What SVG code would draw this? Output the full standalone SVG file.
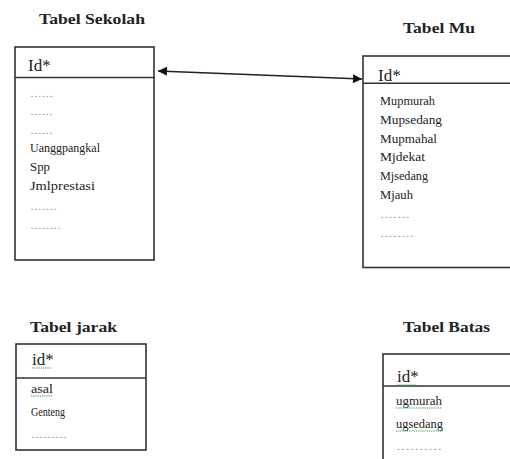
<svg xmlns="http://www.w3.org/2000/svg" width="510" height="459" viewBox="0 0 510 459">
<style>
.box{fill:#fff;stroke:#333;stroke-width:1.6}
.div{stroke:#333;stroke-width:1.6}
text{font-family:'Liberation Serif','Times New Roman',serif}
.title{font-weight:bold;font-size:15px;fill:#222}
.key{font-size:17px;fill:#222}
.row{font-size:12px;fill:#222}
.dots{font-size:10px;fill:#8fa3c4}
.spell{fill:none;stroke:#3a9a3a;stroke-width:1.2;stroke-dasharray:1.2 1}
.conn{stroke:#222;stroke-width:1.6;fill:none}
</style>
<defs>
<marker id="ah" viewBox="0 0 10 10" refX="10" refY="5" markerWidth="11" markerHeight="9" orient="auto-start-reverse" markerUnits="userSpaceOnUse">
<path d="M0,0 L10,5 L0,10 z" fill="#111"/>
</marker>
</defs>
<rect width="510" height="459" fill="#fff"/>

<g id="tabel-sekolah">
<text class="title" font-family="'Liberation Serif', serif" x="39" y="24" textLength="106" lengthAdjust="spacingAndGlyphs">Tabel Sekolah</text>
<rect class="box" x="15" y="47" width="139" height="213"/>
<line class="div" x1="15" y1="77.5" x2="155" y2="77.5"/>
<text class="key" font-family="'Liberation Serif', serif" x="28" y="71">Id*</text>
<text class="dots" font-family="'Liberation Serif', serif" x="30" y="97" textLength="23" lengthAdjust="spacingAndGlyphs">......</text>
<text class="dots" font-family="'Liberation Serif', serif" x="30" y="115" textLength="23" lengthAdjust="spacingAndGlyphs">......</text>
<text class="dots" font-family="'Liberation Serif', serif" x="30" y="134" textLength="23" lengthAdjust="spacingAndGlyphs">......</text>
<text class="row" font-family="'Liberation Serif', serif" x="30" y="152" textLength="70" lengthAdjust="spacingAndGlyphs">Uanggpangkal</text>
<text class="row" font-family="'Liberation Serif', serif" x="30" y="171" textLength="20" lengthAdjust="spacingAndGlyphs">Spp</text>
<text class="row" font-family="'Liberation Serif', serif" x="30" y="190" textLength="65" lengthAdjust="spacingAndGlyphs">Jmlprestasi</text>
<text class="dots" font-family="'Liberation Serif', serif" x="30" y="210" textLength="27" lengthAdjust="spacingAndGlyphs">.......</text>
<text class="dots" font-family="'Liberation Serif', serif" x="30" y="229" textLength="31" lengthAdjust="spacingAndGlyphs">........</text>
</g>

<g id="tabel-mu">
<text class="title" font-family="'Liberation Serif', serif" x="403" y="33" textLength="72" lengthAdjust="spacingAndGlyphs">Tabel Mu</text>
<rect class="box" x="363" y="56" width="160" height="211.5"/>
<line class="div" x1="363" y1="83.3" x2="512" y2="83.3"/>
<text class="key" font-family="'Liberation Serif', serif" x="378" y="81">Id*</text>
<text class="row" font-family="'Liberation Serif', serif" x="380" y="105" textLength="55" lengthAdjust="spacingAndGlyphs">Mupmurah</text>
<text class="row" font-family="'Liberation Serif', serif" x="380" y="124" textLength="62" lengthAdjust="spacingAndGlyphs">Mupsedang</text>
<text class="row" font-family="'Liberation Serif', serif" x="380" y="143" textLength="57" lengthAdjust="spacingAndGlyphs">Mupmahal</text>
<text class="row" font-family="'Liberation Serif', serif" x="380" y="161" textLength="45" lengthAdjust="spacingAndGlyphs">Mjdekat</text>
<text class="row" font-family="'Liberation Serif', serif" x="380" y="180" textLength="48" lengthAdjust="spacingAndGlyphs">Mjsedang</text>
<text class="row" font-family="'Liberation Serif', serif" x="380" y="199" textLength="33" lengthAdjust="spacingAndGlyphs">Mjauh</text>
<text class="dots" font-family="'Liberation Serif', serif" x="380" y="218" textLength="30" lengthAdjust="spacingAndGlyphs">.......</text>
<text class="dots" font-family="'Liberation Serif', serif" x="380" y="237" textLength="34" lengthAdjust="spacingAndGlyphs">........</text>
</g>

<g id="tabel-jarak">
<text class="title" font-family="'Liberation Serif', serif" x="30" y="332" textLength="87" lengthAdjust="spacingAndGlyphs">Tabel jarak</text>
<rect class="box" x="16" y="344" width="130" height="106"/>
<line class="div" x1="16" y1="378" x2="146" y2="378"/>
<text class="key" font-family="'Liberation Serif', serif" x="32" y="365">id*</text>
<path class="spell" d="M32,368 L52,368"/>
<text class="row" font-family="'Liberation Serif', serif" x="31" y="393" textLength="22" lengthAdjust="spacingAndGlyphs">asal</text>
<path class="spell" d="M31,396 L53,396"/>
<text class="row" font-family="'Liberation Serif', serif" x="31" y="416" textLength="34" lengthAdjust="spacingAndGlyphs">Genteng</text>
<text class="dots" font-family="'Liberation Serif', serif" x="31" y="438" textLength="36" lengthAdjust="spacingAndGlyphs">.........</text>
</g>

<g id="tabel-batas">
<text class="title" font-family="'Liberation Serif', serif" x="403" y="332" textLength="87" lengthAdjust="spacingAndGlyphs">Tabel Batas</text>
<rect class="box" x="383" y="354" width="140" height="120"/>
<line class="div" x1="383" y1="386" x2="512" y2="386"/>
<text class="key" font-family="'Liberation Serif', serif" x="397" y="382">id*</text>
<path class="spell" d="M397,385 L417,385"/>
<text class="row" font-family="'Liberation Serif', serif" x="396" y="405" textLength="46" lengthAdjust="spacingAndGlyphs">ugmurah</text>
<path class="spell" d="M396,408 L442,408"/>
<text class="row" font-family="'Liberation Serif', serif" x="396" y="428" textLength="47" lengthAdjust="spacingAndGlyphs">ugsedang</text>
<path class="spell" d="M396,431 L443,431"/>
<text class="dots" font-family="'Liberation Serif', serif" x="396" y="450" textLength="46" lengthAdjust="spacingAndGlyphs">..........</text>
</g>

<g id="connectors">
<line class="conn" x1="158" y1="71" x2="362" y2="79" marker-start="url(#ah)" marker-end="url(#ah)"/>
</g>
</svg>
